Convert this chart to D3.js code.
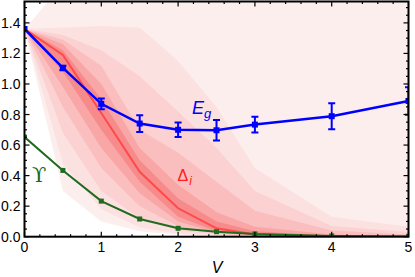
<!DOCTYPE html>
<html><head><meta charset="utf-8">
<script src="https://cdn.jsdelivr.net/npm/d3@7"></script>
<style>html,body{margin:0;padding:0;background:#fff;}svg{display:block;}</style>
</head><body>
<svg id="c" width="415" height="277"></svg>
<script>
// ---- data ----
const V = [0, 0.5, 1, 1.5, 2, 2.5, 3, 4, 5];
const Eg = [1.36, 1.105, 0.87, 0.741, 0.70, 0.697, 0.734, 0.789, 0.889];
const EgErr = [0, 0.015, 0.035, 0.055, 0.047, 0.067, 0.052, 0.085, 0.09];
const Ups = [0.652, 0.434, 0.233, 0.116, 0.055, 0.033, 0.018, 0.005, 0.002];
const DeltaMed = [1.36, 1.19, 0.81, 0.425, 0.186, 0.055, 0.015, 0.003, 0.0];
// quantile bands, outermost first
const band6Up = [1.36, 1.65, 1.65, 1.65, 1.65, 1.65, 1.65, 1.65, 1.65];
const band6Lo = [1.36, 0.30, 0.10, 0.035, 0.012, 0.004, 0.001, 0, 0];
const band5Up = [1.36, 1.37, 1.38, 1.37, 1.15, 0.85, 0.45, 0.13, 0.065];
const band5Lo = [1.36, 0.48, 0.18, 0.06, 0.02, 0.007, 0.002, 0, 0];
const band4Up = [1.36, 1.32, 1.22, 1.05, 0.82, 0.58, 0.30, 0.07, 0.03];
const band4Lo = [1.36, 0.68, 0.30, 0.12, 0.04, 0.012, 0.003, 0, 0];
const band3Up = [1.36, 1.29, 1.12, 0.70, 0.55, 0.36, 0.17, 0.04, 0.015];
const band3Lo = [1.36, 0.85, 0.45, 0.20, 0.07, 0.02, 0.006, 0, 0];
const band2Up = [1.36, 1.26, 1.00, 0.58, 0.34, 0.16, 0.065, 0.015, 0.005];
const band2Lo = [1.36, 0.98, 0.58, 0.285, 0.10, 0.028, 0.008, 0, 0];
const band1Up = [1.36, 1.22, 0.90, 0.50, 0.25, 0.10, 0.035, 0.006, 0.002];
const band1Lo = [1.36, 1.08, 0.70, 0.36, 0.13, 0.035, 0.01, 0.001, 0];
const bandColors = ["#fdeeee", "#fce1e1", "#fbd1d1", "#fabebe", "#f9a6a6", "#f78a8a"];
const xTicks = [0, 1, 2, 3, 4, 5];
const yTicks = [0, 0.2, 0.4, 0.6, 0.8, 1.0, 1.2, 1.4];

// ---- layout ----
const svg = d3.select("#c");
const L = 24.5, R = 408.5, T = 1.5, B = 236.7;
const x = d3.scaleLinear().domain([0, 5]).range([L, R]);
const y = d3.scaleLinear().domain([0, 1.54]).range([B, T]);

svg.append("defs").append("clipPath").attr("id", "clip")
  .append("rect").attr("x", L).attr("y", T).attr("width", R - L).attr("height", B - T);
const g = svg.append("g").attr("clip-path", "url(#clip)");

const bands = [
  [band6Lo, band6Up], [band5Lo, band5Up], [band4Lo, band4Up],
  [band3Lo, band3Up], [band2Lo, band2Up], [band1Lo, band1Up]
];
const area = d3.area().x(d => x(d.v)).y0(d => y(d.lo)).y1(d => y(d.hi));
bands.forEach((b, i) => {
  const data = V.map((v, j) => ({v, lo: b[0][j], hi: b[1][j]}));
  g.append("path").attr("d", area(data)).attr("fill", bandColors[i]);
});

const line = d3.line().x(d => x(d[0])).y(d => y(d[1]));
// Delta median
g.append("path").attr("d", line(V.map((v, i) => [v, DeltaMed[i]])))
  .attr("fill", "none").attr("stroke", "#ff4a4a").attr("stroke-width", 2);

// Upsilon
const green = "#1f6b1f";
g.append("path").attr("d", line(V.map((v, i) => [v, Ups[i]])))
  .attr("fill", "none").attr("stroke", green).attr("stroke-width", 2);
g.selectAll(".gm").data(V.map((v, i) => [v, Ups[i]])).enter().append("rect")
  .attr("x", d => x(d[0]) - 2.5).attr("y", d => y(d[1]) - 2.5)
  .attr("width", 5).attr("height", 5).attr("fill", green);

// Eg
const blue = "#0000ff";
g.append("path").attr("d", line(V.map((v, i) => [v, Eg[i]])))
  .attr("fill", "none").attr("stroke", blue).attr("stroke-width", 2.5);
V.forEach((v, i) => {
  const cx = x(v), e = EgErr[i];
  if (e > 0) {
    g.append("line").attr("x1", cx).attr("x2", cx).attr("y1", y(Eg[i] - e)).attr("y2", y(Eg[i] + e))
      .attr("stroke", blue).attr("stroke-width", 2);
    [Eg[i] - e, Eg[i] + e].forEach(yy => g.append("line")
      .attr("x1", cx - 3.5).attr("x2", cx + 3.5).attr("y1", y(yy)).attr("y2", y(yy))
      .attr("stroke", blue).attr("stroke-width", 2));
  }
  g.append("rect").attr("x", cx - 3).attr("y", y(Eg[i]) - 3).attr("width", 6).attr("height", 6).attr("fill", blue);
});

// ---- frame & ticks ----
const fr = svg.append("g");
const minorX = d3.range(0, 5.0001, 0.2);
const minorY = d3.range(0, 1.5401, 0.05);
minorX.forEach(v => {
  const major = Math.abs(v - Math.round(v)) < 1e-6;
  const len = major ? 5 : 2.5;
  fr.append("line").attr("x1", x(v)).attr("x2", x(v)).attr("y1", B).attr("y2", B - len).attr("stroke", "#000").attr("stroke-width", 1.2);
  fr.append("line").attr("x1", x(v)).attr("x2", x(v)).attr("y1", T).attr("y2", T + len).attr("stroke", "#000").attr("stroke-width", 1.2);
});
minorY.forEach(v => {
  const major = Math.abs(v * 5 - Math.round(v * 5)) < 1e-6;
  const len = major ? 5 : 2.5;
  fr.append("line").attr("x1", L).attr("x2", L + len).attr("y1", y(v)).attr("y2", y(v)).attr("stroke", "#000").attr("stroke-width", 1.2);
  fr.append("line").attr("x1", R).attr("x2", R - len).attr("y1", y(v)).attr("y2", y(v)).attr("stroke", "#000").attr("stroke-width", 1.2);
});
fr.append("rect").attr("x", L).attr("y", T).attr("width", R - L).attr("height", B - T)
  .attr("fill", "none").attr("stroke", "#000").attr("stroke-width", 2);

const font = "'Liberation Sans', Arial, sans-serif";
xTicks.forEach(v => svg.append("text").attr("x", x(v)).attr("y", 252).attr("text-anchor", "middle")
  .attr("font-family", font).attr("font-size", 14).text(d3.format("d")(v)));
yTicks.forEach(v => svg.append("text").attr("x", 20.5).attr("y", y(v) + 5).attr("text-anchor", "end")
  .attr("font-family", font).attr("font-size", 14).text(d3.format(".1f")(v)));

svg.append("text").attr("x", 217).attr("y", 273).attr("text-anchor", "middle")
  .attr("font-family", font).attr("font-size", 16).attr("font-style", "italic").text("V");

// labels
const eg = svg.append("text").attr("x", 192).attr("y", 113.5).attr("fill", blue)
  .attr("font-family", font).attr("font-size", 18).attr("font-style", "italic");
eg.append("tspan").text("E");
eg.append("tspan").attr("font-size", 13).attr("dy", 4).text("g");

const dl = svg.append("text").attr("x", 177.5).attr("y", 181).attr("fill", "#ff2020")
  .attr("font-family", font).attr("font-size", 16);
dl.append("tspan").text("Δ");
dl.append("tspan").attr("font-size", 12).attr("dy", 4).attr("dx", 1).attr("font-style", "italic").text("i");

svg.append("text").attr("x", 32).attr("y", 181.5).attr("fill", green)
  .attr("font-family", "'DejaVu Serif', 'Liberation Serif', serif").attr("font-size", 21).text("ϒ");
</script>
</body></html>
